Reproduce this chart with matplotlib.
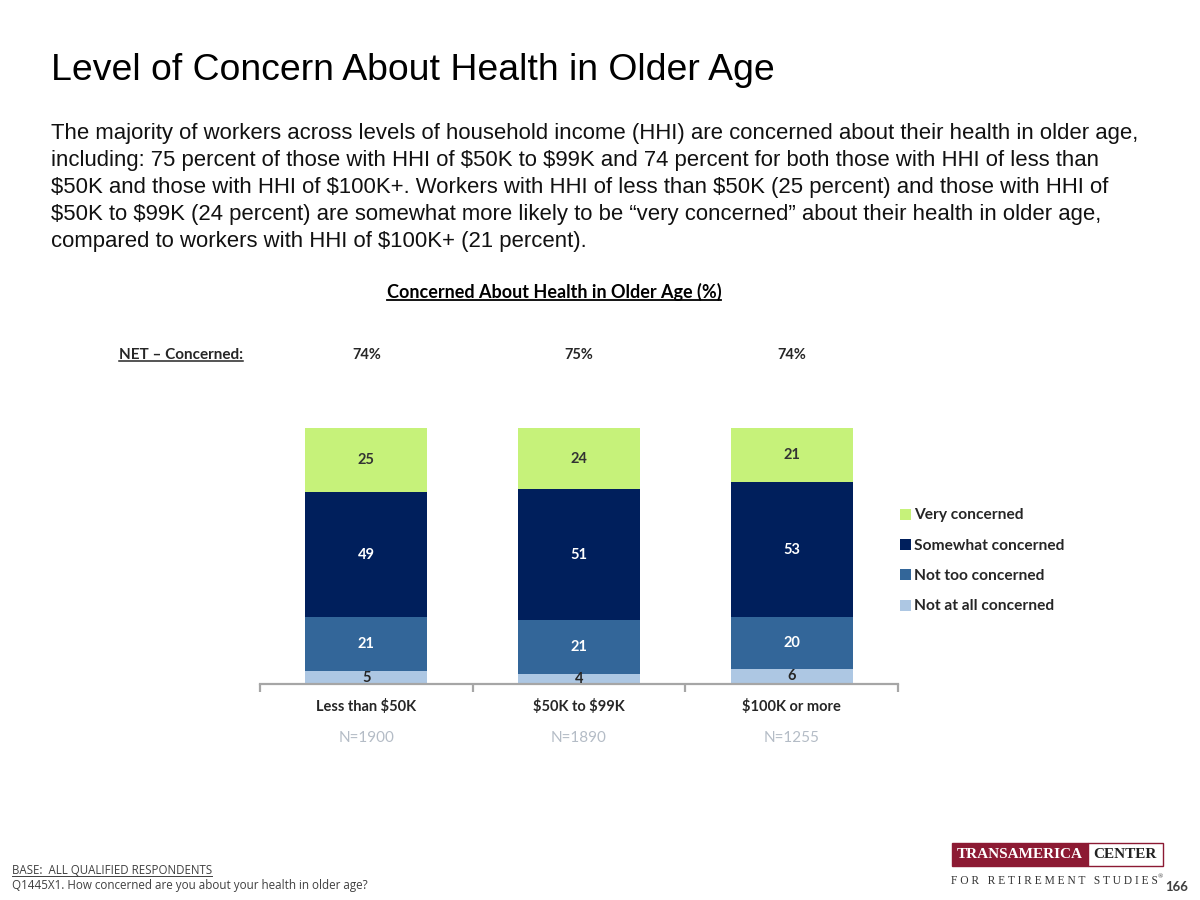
import numpy as np
import matplotlib
matplotlib.use('Agg')
import matplotlib.pyplot as plt
from matplotlib.patches import Rectangle
from matplotlib.lines import Line2D
from matplotlib import font_manager as fm

plt.rcParams['text.parse_math'] = False

# data
groups = ['Less than $50K', '$50K to $99K', '$100K or more']
sizes = ['N=1900', 'N=1890', 'N=1255']
net = ['74%', '75%', '74%']
not_at_all = [5, 4, 6]
not_too = [21, 21, 20]
somewhat = [49, 51, 53]
very = [25, 24, 21]
series = [('Not at all concerned', not_at_all, '#adc7e3', '#262626'),
          ('Not too concerned', not_too, '#336699', 'white'),
          ('Somewhat concerned', somewhat, '#001f5c', 'white'),
          ('Very concerned', very, '#c6f27a', '#333333')]

W, H = 1200, 900
fig = plt.figure(figsize=(12, 9), dpi=100)
fx = lambda px: px / W
fy = lambda py: 1 - py / H


def have(name):
    try:
        fm.findfont(fm.FontProperties(family=name), fallback_to_default=False)
        return True
    except Exception:
        return False


narrow = [f for f in ['Liberation Sans Narrow', 'DejaVu Sans Condensed'] if have(f)]
title_font = narrow + ['Liberation Sans', 'DejaVu Sans']
body_font = ['Liberation Sans', 'DejaVu Sans']
lab_font = ['Lato', 'DejaVu Sans']

title = fig.text(fx(51), fy(70), 'Level of Concern About Health in Older Age', fontsize=26,
                 family=title_font, va='center', ha='left', color='black')

body = ('The majority of workers across levels of household income (HHI) are concerned about their health in older age,\n'
        'including: 75 percent of those with HHI of $50K to $99K and 74 percent for both those with HHI of less than\n'
        '$50K and those with HHI of $100K+. Workers with HHI of less than $50K (25 percent) and those with HHI of\n'
        '$50K to $99K (24 percent) are somewhat more likely to be \u201cvery concerned\u201d about their health in older age,\n'
        'compared to workers with HHI of $100K+ (21 percent).')
body_t = fig.text(fx(51), fy(123), body, fontsize=15, family=body_font, va='top', ha='left',
                  linespacing=1.3, color='#111111')

ax = fig.add_axes([fx(260), fy(684), fx(638), 256 / H])
x = np.arange(len(groups))
bottom = np.zeros(len(groups))
handles = []
for name, vals, col, tcol in series:
    b = ax.bar(x, vals, width=0.574, bottom=bottom, color=col, label=name, zorder=2)
    handles.append(b)
    for xi, v, bt in zip(x, vals, bottom):
        ax.text(xi, bt + v / 2, str(v), ha='center', va='center', color=tcol,
                fontsize=10.5, fontweight='bold', family=lab_font)
    bottom += np.array(vals)

ax.set_xlim(-0.5, 2.5)
ax.set_ylim(0, 100)
for s in ['top', 'right', 'left']:
    ax.spines[s].set_visible(False)
ax.spines['bottom'].set_color('#a6a6a6')
ax.spines['bottom'].set_linewidth(1.6)
ax.set_yticks([])
ax.set_xticks([-0.5, 0.5, 1.5, 2.5])
ax.set_xticklabels([])
ax.tick_params(axis='x', which='major', length=6, width=1.6, color='#a6a6a6')
ax.set_xticks(x, minor=True)
ax.set_xticklabels(groups, minor=True, fontsize=10.5, fontweight='bold', family=lab_font,
                   color='#262626')
ax.tick_params(axis='x', which='minor', length=0, pad=11)

tr = ax.get_xaxis_transform()
for xi, n, nt in zip(x, sizes, net):
    ax.text(xi, -0.21, n, transform=tr, ha='center', va='center', fontsize=11,
            color='#b4bcc6', family=lab_font)
    ax.text(xi, 1.285, nt, transform=tr, ha='center', va='center', fontsize=10.5,
            fontweight='bold', color='#262626', family=lab_font)

leg = fig.legend(handles[::-1], [s[0] for s in series][::-1], loc='center left',
                 bbox_to_anchor=(fx(886), fy(561)), frameon=False, handlelength=0.7,
                 handleheight=0.7, handletextpad=0.2, labelspacing=1.05,
                 prop={'family': lab_font, 'weight': 'bold', 'size': 11.2})
for t in leg.get_texts():
    t.set_color('#262626')

chart_title = fig.text(fx(554), fy(292), 'Concerned About Health in Older Age (%)', fontsize=13,
                       fontweight='bold', family=lab_font, ha='center', va='center', color='black')
net_lab = fig.text(fx(243), fy(355), 'NET \u2013 Concerned:', fontsize=11, fontweight='bold',
                   family=lab_font, ha='right', va='center', color='#262626')

foot_font = ['Open Sans', 'DejaVu Sans']
base = fig.text(fx(12), fy(870), 'BASE:  ALL QUALIFIED RESPONDENTS', fontsize=8.3,
                family=foot_font, ha='left', va='center', color='#404040')
fig.text(fx(12), fy(886), 'Q1445X1. How concerned are you about your health in older age?', fontsize=8.4,
         family=foot_font, ha='left', va='center', color='#404040')

# logo
maroon = '#8c1a33'
fig.add_artist(Rectangle((fx(952), fy(866)), fx(136), 23 / H, transform=fig.transFigure,
                         facecolor=maroon, edgecolor=maroon, lw=1))
fig.add_artist(Rectangle((fx(1088), fy(866)), fx(75), 23 / H, transform=fig.transFigure,
                         facecolor='white', edgecolor=maroon, lw=1))
serif = ['Liberation Serif', 'DejaVu Serif']
fig.text(fx(1020), fy(855), 'TRANSAMERICA', fontsize=11, family=serif, fontweight='bold',
         color='white', ha='center', va='center')
fig.text(fx(1125), fy(855), 'CENTER', fontsize=11, family=serif, fontweight='bold',
         color='#222222', ha='center', va='center')
fig.text(fx(1054), fy(881), 'F O R   R E T I R E M E N T   S T U D I E S', fontsize=8.3,
         family=serif, color='#333333', ha='center', va='center')
fig.text(fx(1158), fy(877), '\u00ae', fontsize=5, family=serif, color='#333333',
         ha='left', va='center')
fig.text(fx(1188), fy(887), '166', fontsize=9.5, fontweight='bold', family=lab_font,
         color='#404040', ha='right', va='center')

# fit title and body widths to the reference
r = fig.canvas.get_renderer()
for t, target in [(title, 722), (body_t, 1086)]:
    bb = t.get_window_extent(r)
    t.set_fontsize(t.get_fontsize() * target / bb.width)
fs = body_t.get_fontsize()
body_t.set_linespacing(27 / (fs * 100 / 72 * 0.944) * 27 / 25.5)

# underlines
fig.canvas.draw()
r = fig.canvas.get_renderer()
for t, lw in [(chart_title, 1.3), (net_lab, 1.1), (base, 0.7)]:
    bb = t.get_window_extent(r)
    yy = bb.y0 + 1
    fig.add_artist(Line2D([bb.x0 / W, bb.x1 / W], [yy / H, yy / H], transform=fig.transFigure,
                          color=t.get_color(), lw=lw))

fig.savefig('out.png', dpi=100)
